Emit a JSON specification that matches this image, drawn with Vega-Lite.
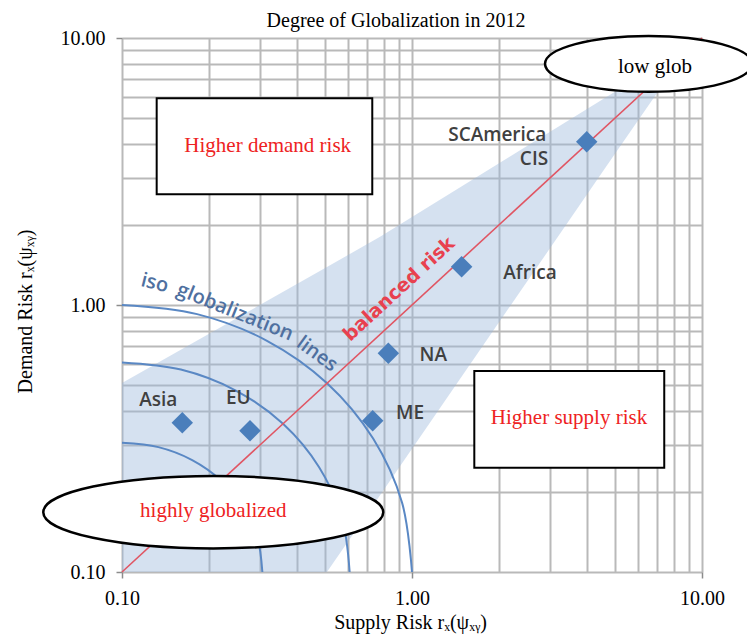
{
  "$schema": "https://vega.github.io/schema/vega-lite/v6.json",
  "width": 580,
  "height": 534,
  "autosize": "none",
  "padding": {"left": 122, "top": 38, "right": 45, "bottom": 62},
  "background": "white",
  "title": {"text": "Degree of Globalization in 2012", "font": "Liberation Serif", "fontSize": 20, "fontWeight": "normal", "color": "black", "anchor": "middle", "dx": -16, "offset": -3},
  "config": {"view": {"stroke": null}},
  "encoding": {
    "x": {
      "field": "x", "type": "quantitative",
      "scale": {"type": "log", "domain": [0.1, 10]},
      "axis": {
        "values": [0.1, 0.2, 0.3, 0.4, 0.5, 0.6, 0.7, 0.8, 0.9, 1, 2, 3, 4, 5, 6, 7, 8, 9, 10],
        "labelExpr": "datum.value === 0.1 || datum.value === 1 || datum.value === 10 ? format(datum.value, '.2f') : ''",
        "grid": true, "gridColor": "#b9b9b9", "gridWidth": 2, "domain": false,
        "tickSize": 6, "tickWidth": 1.5,
        "tickColor": {"condition": {"test": "datum.value === 0.1 || datum.value === 1 || datum.value === 10", "value": "#8c8c8c"}, "value": "transparent"},
        "labelFont": "Liberation Serif", "labelFontSize": 20, "labelColor": "black", "labelPadding": 10,
        "labelFlush": false, "labelOverlap": false,
        "title": "Supply Risk rₓ(ψₓᵧ)", "titleFont": "Liberation Serif", "titleFontSize": 20, "titleFontWeight": "normal", "titleColor": "black",
        "titleX": 288, "titleY": 56, "titleBaseline": "alphabetic", "titleAlign": "center"
      }
    },
    "y": {
      "field": "y", "type": "quantitative",
      "scale": {"type": "log", "domain": [0.1, 10]},
      "axis": {
        "values": [0.1, 0.2, 0.3, 0.4, 0.5, 0.6, 0.7, 0.8, 0.9, 1, 2, 3, 4, 5, 6, 7, 8, 9, 10],
        "labelExpr": "datum.value === 0.1 || datum.value === 1 || datum.value === 10 ? format(datum.value, '.2f') : ''",
        "grid": true, "gridColor": "#b9b9b9", "gridWidth": 2, "domain": false,
        "tickSize": 6, "tickWidth": 1.5,
        "tickColor": {"condition": {"test": "datum.value === 0.1 || datum.value === 1 || datum.value === 10", "value": "#8c8c8c"}, "value": "transparent"},
        "labelFont": "Liberation Serif", "labelFontSize": 20, "labelColor": "black", "labelPadding": 11,
        "labelFlush": false, "labelOverlap": false,
        "title": "Demand Risk rₓ(ψₓᵧ)", "titleFont": "Liberation Serif", "titleFontSize": 20, "titleFontWeight": "normal", "titleColor": "black",
        "titleX": -91, "titleY": 273, "titleAngle": -90, "titleBaseline": "alphabetic", "titleAlign": "center"
      }
    }
  },
  "layer": [
    {
      "data": {"values": [
        {"x": 0.1, "y": 0.51, "y2": 0.1},
        {"x": 0.509, "y": 1.388, "y2": 0.1},
        {"x": 0.776, "y": 1.8, "y2": 0.194},
        {"x": 4.93, "y": 6.22, "y2": 3.59},
        {"x": 7.0, "y": 7.88, "y2": 6.22},
        {"x": 9.09, "y": 9.41, "y2": 9.41}
      ]},
      "mark": {"type": "area", "color": "#9bb7dc", "opacity": 0.42},
      "encoding": {"y2": {"field": "y2"}}
    },
    {
      "data": {"values": [
        {"arc": "r1", "x": 0.1, "y": 1.0},
        {"arc": "r1", "x": 0.1815, "y": 0.9245},
        {"arc": "r1", "x": 0.3162, "y": 0.7345},
        {"arc": "r1", "x": 0.5095, "y": 0.5095},
        {"arc": "r1", "x": 0.7345, "y": 0.3162},
        {"arc": "r1", "x": 0.9245, "y": 0.1815},
        {"arc": "r1", "x": 1.0, "y": 0.1},
        {"arc": "r2", "x": 0.1, "y": 0.6095},
        {"arc": "r2", "x": 0.1596, "y": 0.5731},
        {"arc": "r2", "x": 0.2469, "y": 0.4783},
        {"arc": "r2", "x": 0.3591, "y": 0.3591},
        {"arc": "r2", "x": 0.4783, "y": 0.2469},
        {"arc": "r2", "x": 0.5731, "y": 0.1596},
        {"arc": "r2", "x": 0.6095, "y": 0.1},
        {"arc": "r3", "x": 0.1, "y": 0.3048},
        {"arc": "r3", "x": 0.1335, "y": 0.2935},
        {"arc": "r3", "x": 0.1746, "y": 0.2625},
        {"arc": "r3", "x": 0.2199, "y": 0.2199},
        {"arc": "r3", "x": 0.2625, "y": 0.1746},
        {"arc": "r3", "x": 0.2935, "y": 0.1335},
        {"arc": "r3", "x": 0.3048, "y": 0.1}
      ]},
      "mark": {"type": "line", "color": "#5a88c4", "strokeWidth": 2, "interpolate": "catmull-rom"},
      "encoding": {"detail": {"field": "arc"}}
    },
    {
      "data": {"values": [{"x": 0.1, "y": 0.1}, {"x": 10, "y": 10}]},
      "mark": {"type": "line", "color": "#e05563", "strokeWidth": 1.6}
    },
    {
      "data": {"values": [
        {"region": "Asia", "x": 0.1614, "y": 0.3623},
        {"region": "EU", "x": 0.2763, "y": 0.338},
        {"region": "ME", "x": 0.732, "y": 0.3688},
        {"region": "NA", "x": 0.8287, "y": 0.6595},
        {"region": "Africa", "x": 1.483, "y": 1.391},
        {"region": "SCAmerica/CIS", "x": 4.004, "y": 4.089}
      ]},
      "mark": {"type": "point", "shape": "diamond", "filled": true, "size": 460, "color": "#4a7ebb", "opacity": 1}
    },
    {
      "data": {"values": [
        {"label": "Asia", "x": 0.1334, "y": 0.4406},
        {"label": "EU", "x": 0.2518, "y": 0.4472},
        {"label": "ME", "x": 0.984, "y": 0.393},
        {"label": "NA", "x": 1.184, "y": 0.6498},
        {"label": "Africa", "x": 2.552, "y": 1.314},
        {"label": "SCAmerica", "x": 1.968, "y": 4.332},
        {"label": "CIS", "x": 2.634, "y": 3.513}
      ]},
      "mark": {"type": "text", "font": "Open Sans", "fontWeight": 600, "fontSize": 19, "color": "#404040", "align": "center", "baseline": "middle"},
      "encoding": {"text": {"field": "label"}}
    },
    {
      "data": {"values": [{"label": "balanced risk", "x": 0.902, "y": 1.148}]},
      "mark": {"type": "text", "font": "DejaVu Sans", "fontWeight": "bold", "fontSize": 19, "color": "#e8414f", "align": "center", "baseline": "middle", "angle": -42.6},
      "encoding": {"text": {"field": "label"}}
    },
    {
      "data": {"values": [{"label": "iso", "x": 0.1297, "y": 1.206}]},
      "mark": {"type": "text", "font": "Open Sans", "fontWeight": 600, "fontSize": 20, "color": "#4f70a0", "align": "center", "baseline": "middle", "angle": 14},
      "encoding": {"text": {"field": "label"}}
    },
    {
      "data": {"values": [{"label": "globalization", "x": 0.2453, "y": 0.9414}]},
      "mark": {"type": "text", "font": "Open Sans", "fontWeight": 600, "fontSize": 20, "color": "#4f70a0", "align": "center", "baseline": "middle", "angle": 22},
      "encoding": {"text": {"field": "label"}}
    },
    {
      "data": {"values": [{"label": "lines", "x": 0.4704, "y": 0.655}]},
      "mark": {"type": "text", "font": "Open Sans", "fontWeight": 600, "fontSize": 20, "color": "#4f70a0", "align": "center", "baseline": "middle", "angle": 36},
      "encoding": {"text": {"field": "label"}}
    },
    {
      "data": {"values": [
        {"box": "demand", "x": 0.1317, "x2": 0.7295, "y": 5.945, "y2": 2.598},
        {"box": "supply", "x": 1.64, "x2": 7.41, "y": 0.566, "y2": 0.2458}
      ]},
      "mark": {"type": "rect", "fill": "white", "stroke": "black", "strokeWidth": 2, "opacity": 1},
      "encoding": {"x2": {"field": "x2"}, "y2": {"field": "y2"}}
    },
    {
      "data": {"values": [
        {"label": "Higher demand risk", "x": 0.318, "y": 3.95},
        {"label": "Higher supply risk", "x": 3.478, "y": 0.3764}
      ]},
      "mark": {"type": "text", "font": "Liberation Serif", "fontSize": 21, "color": "#ee2222", "align": "center", "baseline": "middle"},
      "encoding": {"text": {"field": "label"}}
    },
    {
      "data": {"values": [{"name": "highly globalized", "x": 0.2064, "y": 0.1675}]},
      "mark": {"type": "point", "shape": "M-1,0A1,0.213,0,1,0,1,0A1,0.213,0,1,0,-1,0Z", "size": 115600, "filled": true, "fill": "white", "stroke": "black", "strokeWidth": 2.5, "opacity": 1, "fillOpacity": 1, "strokeOpacity": 1}
    },
    {
      "data": {"values": [{"name": "low glob", "x": 6.54, "y": 8.0}]},
      "mark": {"type": "point", "shape": "M-1,0A1,0.27,0,1,0,1,0A1,0.27,0,1,0,-1,0Z", "size": 42849, "filled": true, "fill": "white", "stroke": "black", "strokeWidth": 2.5, "opacity": 1, "fillOpacity": 1, "strokeOpacity": 1}
    },
    {
      "data": {"values": [{"label": "highly globalized", "x": 0.2064, "y": 0.1697}]},
      "mark": {"type": "text", "font": "Liberation Serif", "fontSize": 21, "color": "#ee2222", "align": "center", "baseline": "middle"},
      "encoding": {"text": {"field": "label"}}
    },
    {
      "data": {"values": [{"label": "low glob", "x": 6.886, "y": 7.81}]},
      "mark": {"type": "text", "font": "Liberation Serif", "fontSize": 21, "color": "black", "align": "center", "baseline": "middle"},
      "encoding": {"text": {"field": "label"}}
    }
  ]
}
